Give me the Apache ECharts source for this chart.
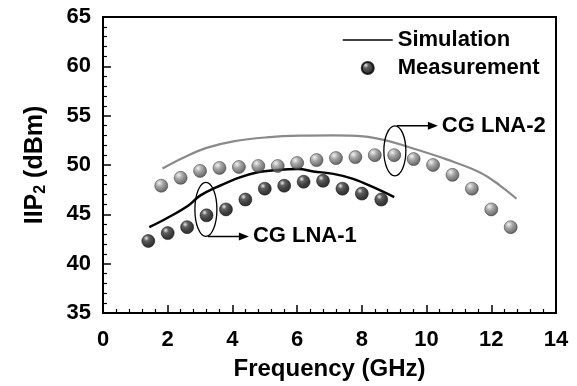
<!DOCTYPE html>
<html><head><meta charset="utf-8">
<script src="https://cdn.jsdelivr.net/npm/echarts@6/dist/echarts.min.js"></script>
<style>html,body{margin:0;padding:0;background:#fff}#c{width:577px;height:386px}</style>
</head><body><div id="c"></div>
<script>
// ---- data ----
const measFreq1 = [1.4, 2.0, 2.6, 3.2, 3.8, 4.4, 5.0, 5.6, 6.2, 6.8, 7.4, 8.0, 8.6];
const meas1     = [42.3, 43.1, 43.7, 44.9, 45.5, 46.5, 47.6, 47.9, 48.3, 48.4, 47.6, 47.1, 46.5];
const measFreq2 = [1.8, 2.4, 3.0, 3.6, 4.2, 4.8, 5.4, 6.0, 6.6, 7.2, 7.8, 8.4, 9.0, 9.6, 10.2, 10.8, 11.4, 12.0, 12.6];
const meas2     = [47.9, 48.7, 49.4, 49.7, 49.8, 49.9, 49.9, 50.2, 50.5, 50.7, 50.8, 51.0, 51.0, 50.6, 50.0, 49.0, 47.6, 45.5, 43.7];
const simFreq1  = [1.43, 1.97, 2.64, 3.0, 3.51, 4.23, 4.75, 5.37, 6.04, 6.5, 7.12, 7.73, 8.35, 9.0];
const sim1      = [43.7, 44.6, 45.9, 46.9, 47.75, 48.75, 49.25, 49.5, 49.6, 49.35, 49.1, 48.6, 47.75, 46.75];
const simFreq2  = [1.84, 2.48, 3.2, 4.03, 5.06, 6.09, 7.12, 8.04, 8.77, 9.69, 10.62, 11.65, 12.27, 12.78];
const sim2      = [49.65, 50.74, 51.74, 52.4, 52.8, 52.97, 53.0, 52.9, 52.47, 51.57, 50.57, 49.25, 47.92, 46.58];
const legendNames = ['Simulation', 'Measurement'];
const noteLabels = ['CG LNA-1', 'CG LNA-2'];
const noteAnchors = [[3.18, 45.5], [9.02, 51.44]];

const pairs = (xs, ys) => xs.map((x, i) => [x, ys[i]]);
const FONT = 'Arial, "Liberation Sans", sans-serif';

const blackBall = {type:'radial', x:0.36, y:0.3, r:0.72, colorStops:[
  {offset:0, color:'#e6e6e6'}, {offset:0.28, color:'#3a3a3a'}, {offset:0.7, color:'#0a0a0a'}, {offset:1, color:'#000'}]};
const grayBall = {type:'radial', x:0.36, y:0.3, r:0.72, colorStops:[
  {offset:0, color:'#eeeeee'}, {offset:0.4, color:'#8e8e8e'}, {offset:1, color:'#3a3a3a'}]};

const chart = echarts.init(document.getElementById('c'), null, {renderer:'canvas'});
const axisCommon = {
  axisLine:{show:true, onZero:false, lineStyle:{color:'#000', width:2}},
  axisTick:{show:true, inside:true, length:8, lineStyle:{color:'#000', width:1.5}},
  minorTick:{show:true, splitNumber:5, length:4, lineStyle:{color:'#000', width:1.2}},
  splitLine:{show:false},
  axisLabel:{color:'#000', fontWeight:'bold', fontSize:22, fontFamily:FONT},
  nameTextStyle:{color:'#000', fontWeight:'bold', fontSize:24, fontFamily:FONT}
};
const option = {
  animation:false,
  backgroundColor:'#fff',
  grid:{left:103, right:21, top:17, bottom:68, show:true, borderColor:'#000', borderWidth:2, backgroundColor:'transparent'},
  legend:{
    data:[
      {name:legendNames[0], itemStyle:{color:'rgba(0,0,0,0)', borderColor:'rgba(0,0,0,0)', borderWidth:0}, lineStyle:{color:'#000', width:1.5}},
      {name:legendNames[1]}
    ],
    orient:'vertical', left:337, top:24, itemWidth:50, itemHeight:12, itemGap:6,
    textStyle:{color:'#000', fontWeight:'bold', fontSize:22, fontFamily:FONT}
  },
  xAxis:Object.assign({}, axisCommon, {
    type:'value', min:0, max:14, interval:2,
    name:'Frequency (GHz)', nameLocation:'middle', nameGap:44,
    axisLabel:Object.assign({}, axisCommon.axisLabel, {margin:16})
  }),
  yAxis:Object.assign({}, axisCommon, {
    type:'value', min:35, max:65, interval:5,
    name:'{a|IIP}{s|2}{a| (dBm)}', nameLocation:'middle', nameGap:54,
    nameTextStyle:Object.assign({}, axisCommon.nameTextStyle, {rich:{
      a:{fontWeight:'bold', fontSize:25, fontFamily:FONT, color:'#000'},
      s:{fontWeight:'bold', fontSize:16, fontFamily:FONT, color:'#000', verticalAlign:'bottom', padding:[12,0,0,0]}
    }}),
    axisLabel:Object.assign({}, axisCommon.axisLabel, {margin:12})
  }),
  series:[
    {name:'Simulation', type:'line', smooth:0.4, symbol:'none', data:pairs(simFreq1, sim1),
      lineStyle:{color:'#000', width:2.5}, itemStyle:{color:'#000'}, z:2},
    {name:'Simulation', type:'line', smooth:0.4, symbol:'none', data:pairs(simFreq2, sim2),
      lineStyle:{color:'#8a8a8a', width:2.2}, itemStyle:{color:'#8a8a8a'}, z:2},
    {name:'Measurement', type:'scatter', symbol:'circle', symbolSize:13, data:pairs(measFreq1, meas1),
      itemStyle:{color:blackBall, borderColor:'#000', borderWidth:0.6}, z:3},
    {name:'Measurement', type:'scatter', symbol:'circle', symbolSize:13, data:pairs(measFreq2, meas2),
      itemStyle:{color:grayBall, borderColor:'#2a2a2a', borderWidth:0.6}, z:3}
  ]
};
chart.setOption(option);

// annotations: ellipse + arrow + label, positioned from data coordinates
const graphics = [];
const specs = [{ry:27, side:1}, {ry:25, side:-1}];
noteAnchors.forEach((a, i) => {
  const p = chart.convertToPixel({gridIndex:0}, a);
  const cx = p[0], cy = p[1], rx = 11, ry = specs[i].ry;
  const ay = cy + specs[i].side * ry;
  graphics.push({type:'ellipse', shape:{cx:cx, cy:cy, rx:rx, ry:ry}, style:{fill:null, stroke:'#000', lineWidth:1.3}, z:10});
  graphics.push({type:'line', shape:{x1:cx + 2, y1:ay, x2:cx + 36, y2:ay}, style:{stroke:'#000', lineWidth:1.5}, z:10});
  graphics.push({type:'polygon', shape:{points:[[cx + 43, ay], [cx + 33, ay - 4], [cx + 33, ay + 4]]}, style:{fill:'#000'}, z:10});
  graphics.push({type:'text', x:cx + 47, y:ay, style:{text:noteLabels[i], fill:'#000', font:'bold 22px ' + FONT, textVerticalAlign:'middle', verticalAlign:'middle'}, z:10});
});
chart.setOption({graphic:graphics});
</script>
</body></html>
